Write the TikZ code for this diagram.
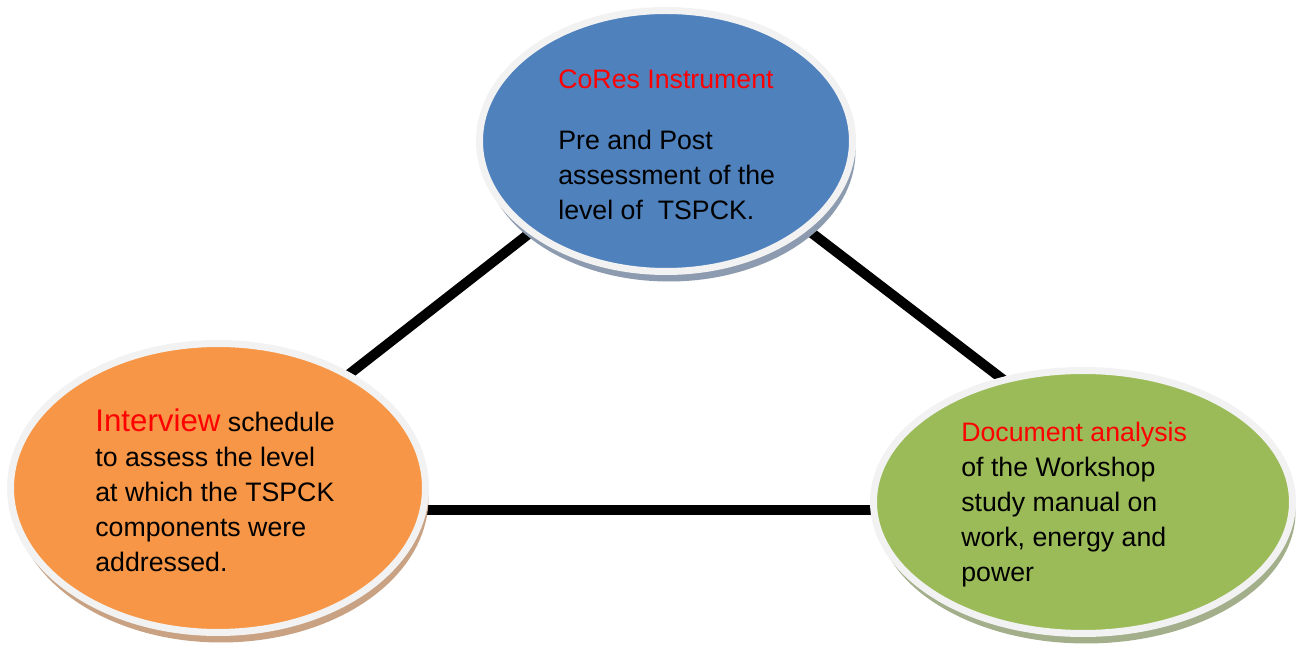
\documentclass[tikz,border=0pt]{standalone}
\usepackage{fontspec}
\setmainfont{Liberation Sans}
\usetikzlibrary{shapes.geometric,shadows,backgrounds}

\definecolor{coresblue}{HTML}{4F81BD}
\definecolor{interviewor}{HTML}{F79646}
\definecolor{docgreen}{HTML}{9BBB59}
\definecolor{rimgray}{HTML}{F2F2F2}
\definecolor{blueshade}{HTML}{8C9BAF}
\definecolor{orshade}{HTML}{C9A283}
\definecolor{greenshade}{HTML}{A3AF8B}
\definecolor{titlered}{HTML}{FF0000}

\begin{document}
\begin{tikzpicture}
        % Define styles
        \tikzset{
            method/.style={ellipse, draw=rimgray, line width=0.14cm, outer sep=0pt},
            label/.style={anchor=base west, align=left, inner sep=0pt,
                font=\fontsize{15.2}{20}\selectfont},
            link/.style={line width=0.2cm, black}
        }
        \useasboundingbox (0,0) rectangle (26.08,-13);

        % Nodes
        \node[method, fill=coresblue, minimum width=7.46cm, minimum height=5.22cm,
            drop shadow={shadow xshift=0.06cm, shadow yshift=-0.2cm, fill=blueshade, opacity=1}]
            (cores_node) at (13.32,-2.82) {};
        \node[method, fill=interviewor, minimum width=8.3cm, minimum height=5.78cm,
            drop shadow={shadow xshift=0.06cm, shadow yshift=-0.2cm, fill=orshade, opacity=1}]
            (interview_node) at (4.36,-9.76) {};
        \node[method, fill=docgreen, minimum width=8.38cm, minimum height=5.26cm,
            drop shadow={shadow xshift=0.06cm, shadow yshift=-0.2cm, fill=greenshade, opacity=1}]
            (document_node) at (21.66,-10.04) {};

        % Texts (placed at the baseline of their last line)
        \node[label] (cores_text) at (11.16,-4.40)
            {\textcolor{titlered}{CoRes Instrument}\\[15pt]
             Pre and Post\\assessment of the\\level of~ TSPCK.};
        \node[label] (interview_text) at (1.9,-11.44)
            {{\fontsize{17.8}{20}\selectfont\textcolor{titlered}{Interview}} schedule\\
             to assess the level\\at which the TSPCK\\components were\\addressed.};
        \node[label] (document_text) at (19.22,-11.64)
            {\textcolor{titlered}{Document analysis}\\of the Workshop\\
             study manual on\\work, energy and\\power};

        % Lines
        \begin{scope}[on background layer]
            \draw[link] (cores_node.214) -- (interview_node.41);
            \draw[link] (cores_node.-32) -- (document_node.123);
            \draw[link] (interview_node.-6.6) -- (interview_node.-6.6 -| document_node.west);
        \end{scope}
    \end{tikzpicture}
\end{document}
